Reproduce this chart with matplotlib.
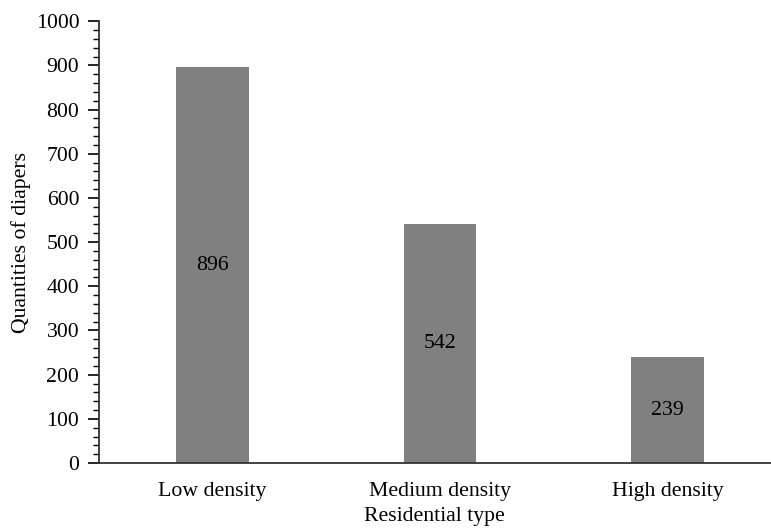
import numpy as np
import matplotlib
matplotlib.use("Agg")
import matplotlib.pyplot as plt
from matplotlib.ticker import MultipleLocator

categories = ["Low density", "Medium density", "High density"]
quantities = [896, 542, 239]

plt.rcParams["font.family"] = ["Liberation Serif", "DejaVu Serif"]
fs = 15.7

fig = plt.figure(figsize=(7.71, 5.31), dpi=100)
ax = fig.add_axes([0.128, 0.128, 0.872, 0.832])

x = np.arange(len(categories))
bars = ax.bar(x, quantities, width=0.317, color="#808080")
for xi, q in zip(x, quantities):
    ax.text(xi, q / 2, str(q), ha="center", va="center", fontsize=fs)

ax.set_xlim(-0.5, 2.455)
ax.set_ylim(0, 1000)
ax.yaxis.set_major_locator(MultipleLocator(100))
ax.yaxis.set_minor_locator(MultipleLocator(20))
ax.set_xticks(x)
ax.set_xticklabels(categories)
ax.tick_params(axis="x", length=0, labelsize=fs, pad=14)
ax.tick_params(axis="y", which="major", length=8, width=1.2, labelsize=fs, direction="out", pad=6)
ax.tick_params(axis="y", which="minor", length=4, width=1.0, direction="out")

for s in ["top", "right"]:
    ax.spines[s].set_visible(False)
for s in ["left", "bottom"]:
    ax.spines[s].set_linewidth(1.3)
    ax.spines[s].set_color("#333333")

ax.set_xlabel("Residential type", fontsize=fs, labelpad=4)
ax.set_ylabel("Quantities of diapers", fontsize=fs, labelpad=3)

fig.savefig("out.png", dpi=100)
